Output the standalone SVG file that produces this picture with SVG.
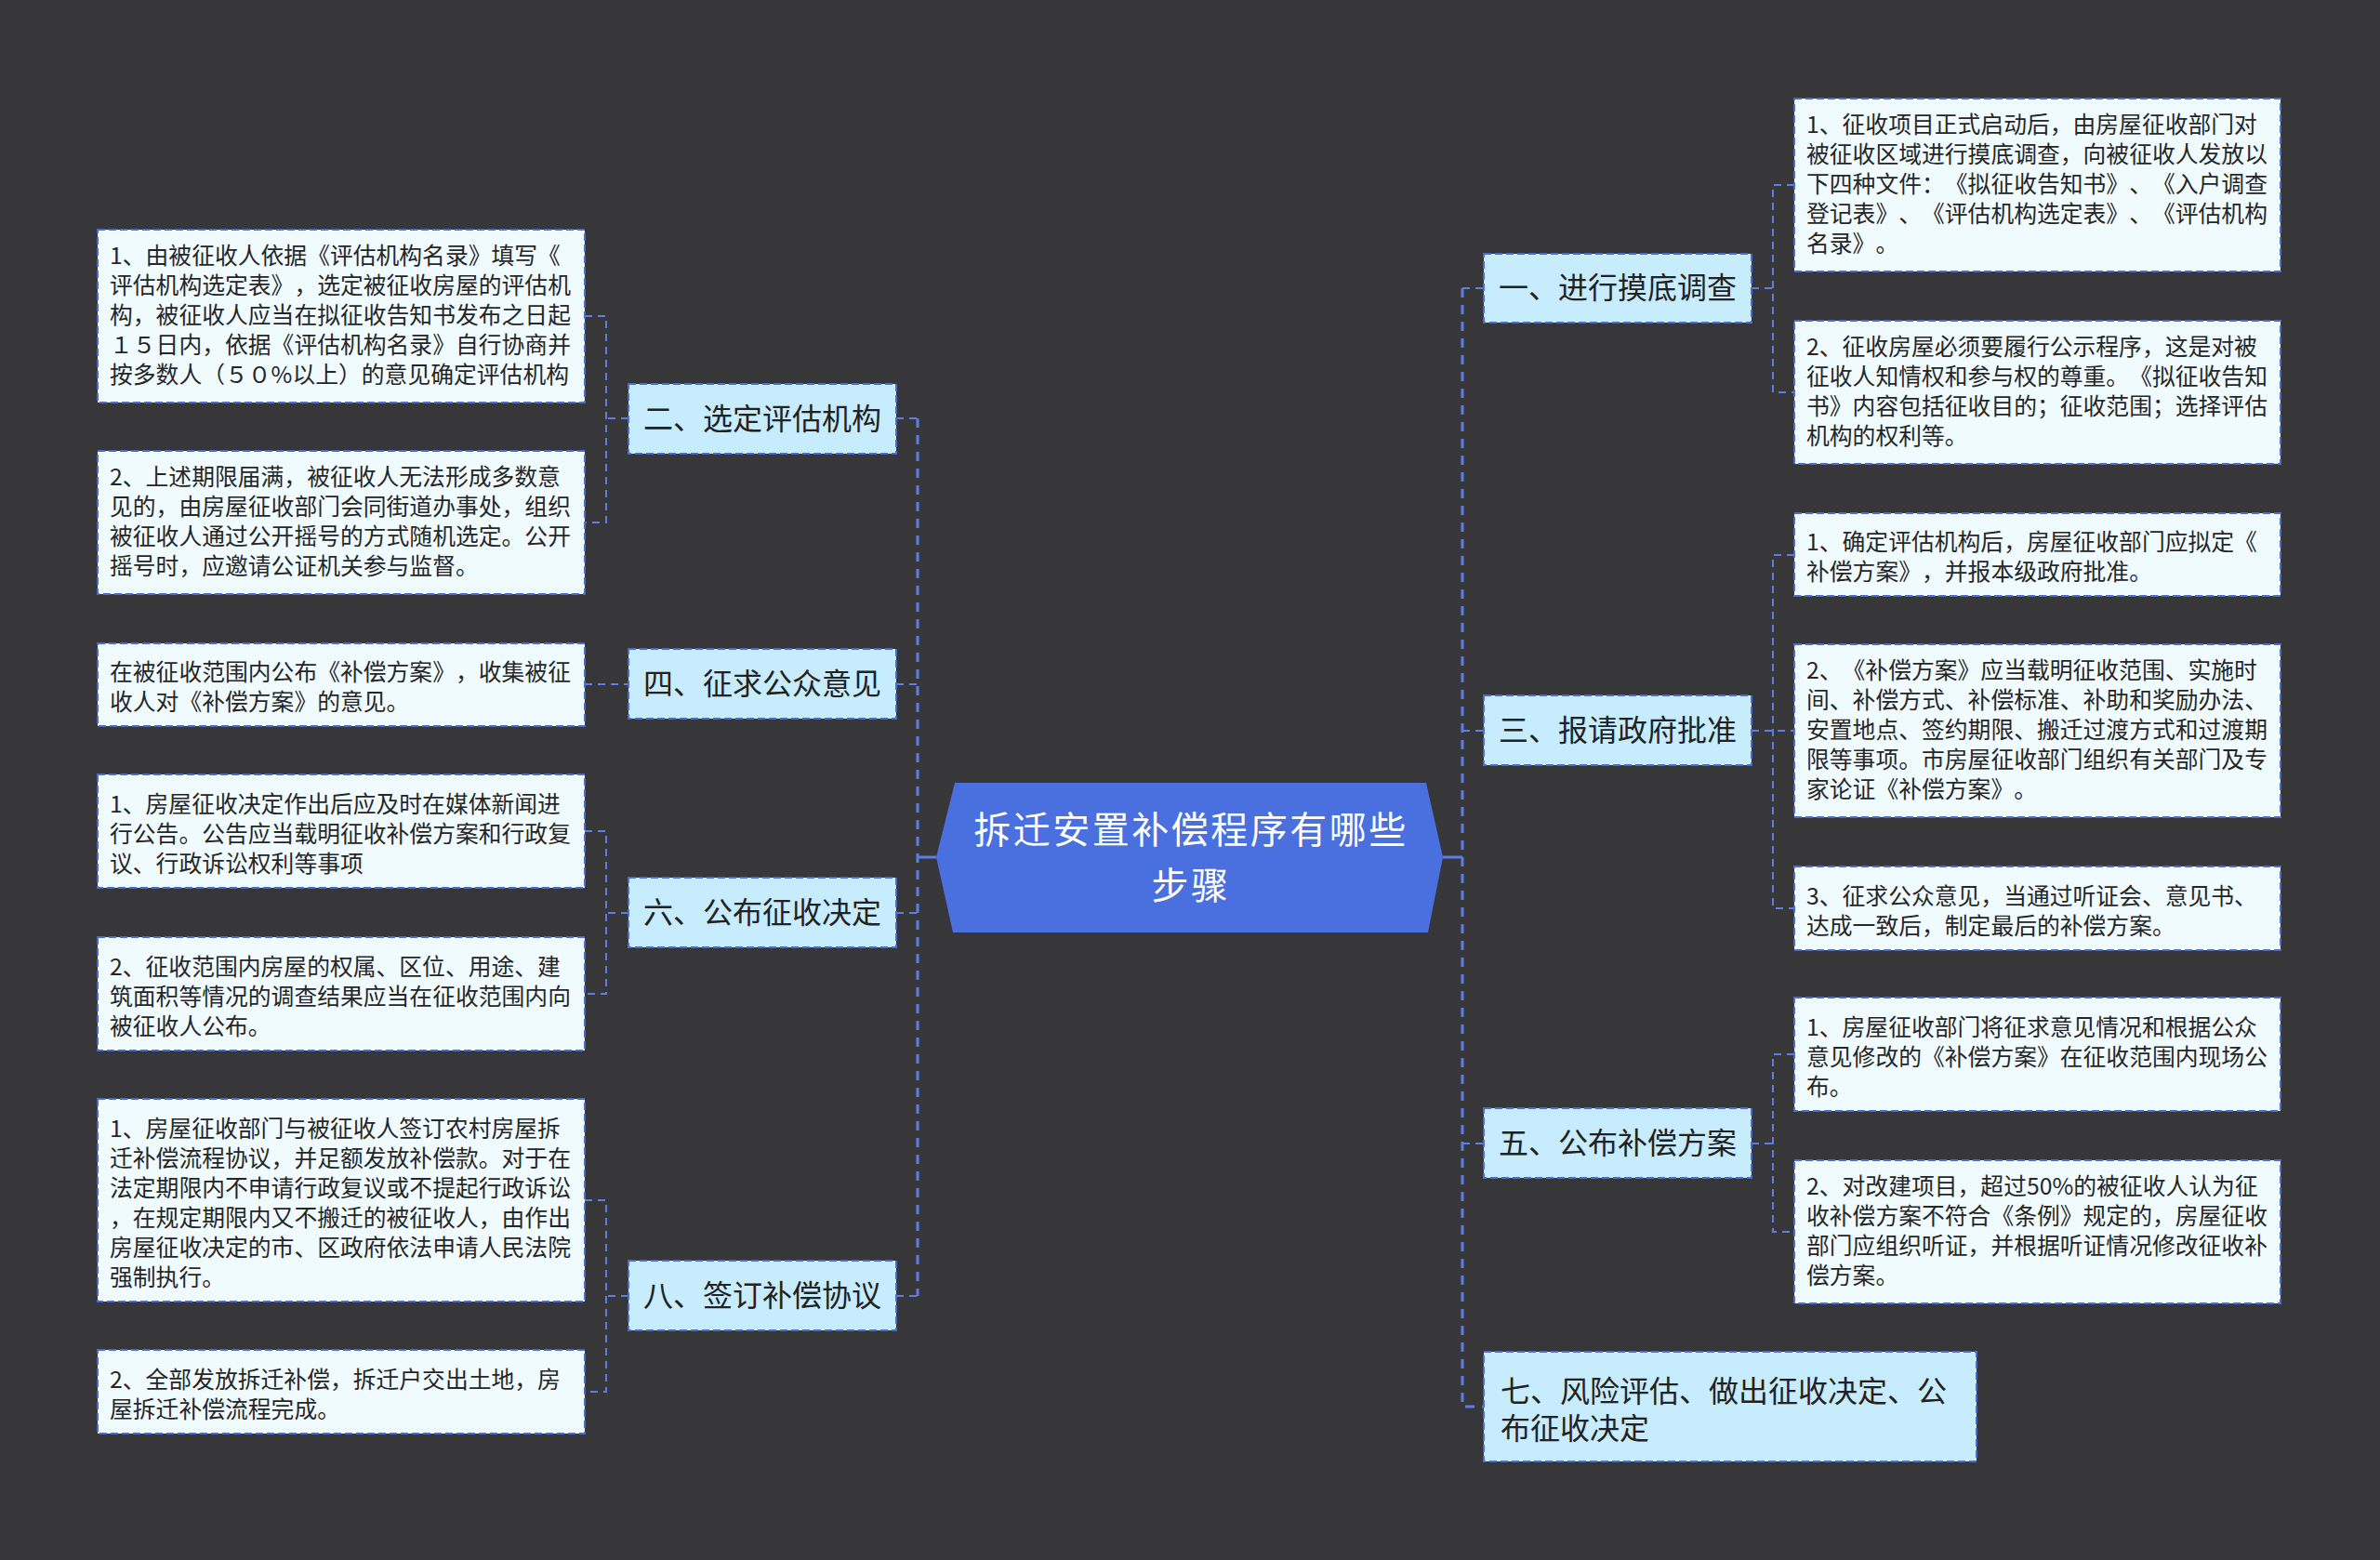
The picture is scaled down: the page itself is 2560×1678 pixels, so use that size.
<svg xmlns="http://www.w3.org/2000/svg" width="2560" height="1678" viewBox="0 0 2560 1678">
<style>
.bg{fill:#373638}
text{text-spacing-trim:space-all;font-kerning:none}
.leaf rect{fill:#f0fbff;stroke:#4a6ad4;stroke-width:2;stroke-dasharray:8 4}
.branch rect{fill:#c6ecfd;stroke:#4a6ad4;stroke-width:2;stroke-dasharray:8 4}
.lt{font-family:"Noto Sans CJK SC","Noto Sans",sans-serif;font-size:24.8px;fill:#262626}
.bt{font-family:"Noto Sans CJK SC","Noto Sans",sans-serif;font-size:32px;fill:#222}
.ct{font-family:"Noto Sans CJK SC","Noto Sans",sans-serif;font-size:40px;letter-spacing:2.5px;fill:#ffffff;text-anchor:middle}
.trunk{fill:none;stroke:#5a7ee6;stroke-width:3;stroke-dasharray:10 8}
.br{fill:none;stroke:#5a7ee6;stroke-width:2;stroke-dasharray:8 6}
.solid{fill:none;stroke:#5a7ee6;stroke-width:3}
</style>
<rect class="bg" x="0" y="0" width="2560" height="1678"/>

<g id="connectors">
  <path class="solid" d="M1007 922 H987"/>
  <path class="solid" d="M1552 922 H1573"/>
  <path class="trunk" d="M987 450 V1394"/>
  <path class="trunk" d="M1573 310 V1513 H1596"/>
  <path class="br" d="M964 450 H987"/>
  <path class="br" d="M964 736 H987"/>
  <path class="br" d="M964 982 H987"/>
  <path class="br" d="M964 1394 H987"/>
  <path class="br" d="M1573 310 H1596"/>
  <path class="br" d="M1573 786 H1596"/>
  <path class="br" d="M1573 1230 H1596"/>
  <path class="br" d="M676 450 H652"/>
  <path class="br" d="M629 340 H652 V562 H629"/>
  <path class="br" d="M629 736 H676"/>
  <path class="br" d="M676 982 H652"/>
  <path class="br" d="M629 894 H652 V1069 H629"/>
  <path class="br" d="M676 1394 H652"/>
  <path class="br" d="M629 1291 H652 V1497 H629"/>
  <path class="br" d="M1884 310 H1907"/>
  <path class="br" d="M1930 199 H1907 V422 H1930"/>
  <path class="br" d="M1884 786 H1930"/>
  <path class="br" d="M1930 597 H1907 V977 H1930"/>
  <path class="br" d="M1884 1230 H1907"/>
  <path class="br" d="M1930 1134 H1907 V1325 H1930"/>
</g>

<g id="center">
  <polygon points="1027,842 1534,842 1552,922 1536,1003 1025,1003 1007,922" fill="#4a6fde"/>
  <text class="ct"><tspan x="1281" y="907">拆迁安置补偿程序有哪些</tspan><tspan x="1281" y="967">步骤</tspan></text>
</g>

<g id="b2" class="branch"><rect x="676" y="413" width="288" height="75"/><text class="bt" x="820" y="462" text-anchor="middle">二、选定评估机构</text></g>
<g id="b4" class="branch"><rect x="676" y="698" width="288" height="75"/><text class="bt" x="820" y="747" text-anchor="middle">四、征求公众意见</text></g>
<g id="b6" class="branch"><rect x="676" y="944" width="288" height="75"/><text class="bt" x="820" y="993" text-anchor="middle">六、公布征收决定</text></g>
<g id="b8" class="branch"><rect x="676" y="1356" width="288" height="75"/><text class="bt" x="820" y="1405" text-anchor="middle">八、签订补偿协议</text></g>
<g id="b1" class="branch"><rect x="1596" y="273" width="288" height="74"/><text class="bt" x="1740" y="321" text-anchor="middle">一、进行摸底调查</text></g>
<g id="b3" class="branch"><rect x="1596" y="748" width="288" height="75"/><text class="bt" x="1740" y="797" text-anchor="middle">三、报请政府批准</text></g>
<g id="b5" class="branch"><rect x="1596" y="1192" width="288" height="75"/><text class="bt" x="1740" y="1241" text-anchor="middle">五、公布补偿方案</text></g>
<g id="b7" class="branch"><rect x="1596" y="1454" width="530" height="118"/><text class="bt"><tspan x="1614" y="1508">七、风险评估、做出征收决定、公</tspan><tspan x="1614" y="1548">布征收决定</tspan></text></g>

<g id="l2a" class="leaf"><rect x="105" y="247" width="524" height="186"/>
<text class="lt" x="118"><tspan x="118" y="284">1、由被征收人依据《评估机构名录》填写《</tspan><tspan x="118" y="316">评估机构选定表》，选定被征收房屋的评估机</tspan><tspan x="118" y="348">构，被征收人应当在拟征收告知书发布之日起</tspan><tspan x="118" y="380">１５日内，依据《评估机构名录》自行协商并</tspan><tspan x="118" y="412">按多数人（５０%以上）的意见确定评估机构</tspan></text></g>
<g id="l2b" class="leaf"><rect x="105" y="485" width="524" height="154"/>
<text class="lt"><tspan x="118" y="522">2、上述期限届满，被征收人无法形成多数意</tspan><tspan x="118" y="554">见的，由房屋征收部门会同街道办事处，组织</tspan><tspan x="118" y="586">被征收人通过公开摇号的方式随机选定。公开</tspan><tspan x="118" y="618">摇号时，应邀请公证机关参与监督。</tspan></text></g>
<g id="l4" class="leaf"><rect x="105" y="692" width="524" height="89"/>
<text class="lt"><tspan x="118" y="732">在被征收范围内公布《补偿方案》，收集被征</tspan><tspan x="118" y="764">收人对《补偿方案》的意见。</tspan></text></g>
<g id="l6a" class="leaf"><rect x="105" y="833" width="524" height="122"/>
<text class="lt"><tspan x="118" y="874">1、房屋征收决定作出后应及时在媒体新闻进</tspan><tspan x="118" y="906">行公告。公告应当载明征收补偿方案和行政复</tspan><tspan x="118" y="938">议、行政诉讼权利等事项</tspan></text></g>
<g id="l6b" class="leaf"><rect x="105" y="1008" width="524" height="122"/>
<text class="lt"><tspan x="118" y="1049">2、征收范围内房屋的权属、区位、用途、建</tspan><tspan x="118" y="1081">筑面积等情况的调查结果应当在征收范围内向</tspan><tspan x="118" y="1113">被征收人公布。</tspan></text></g>
<g id="l8a" class="leaf"><rect x="105" y="1182" width="524" height="218"/>
<text class="lt"><tspan x="118" y="1223">1、房屋征收部门与被征收人签订农村房屋拆</tspan><tspan x="118" y="1255">迁补偿流程协议，并足额发放补偿款。对于在</tspan><tspan x="118" y="1287">法定期限内不申请行政复议或不提起行政诉讼</tspan><tspan x="118" y="1319">，在规定期限内又不搬迁的被征收人，由作出</tspan><tspan x="118" y="1351">房屋征收决定的市、区政府依法申请人民法院</tspan><tspan x="118" y="1383">强制执行。</tspan></text></g>
<g id="l8b" class="leaf"><rect x="105" y="1452" width="524" height="90"/>
<text class="lt"><tspan x="118" y="1493">2、全部发放拆迁补偿，拆迁户交出土地，房</tspan><tspan x="118" y="1525">屋拆迁补偿流程完成。</tspan></text></g>

<g id="l1a" class="leaf"><rect x="1930" y="106" width="523" height="186"/>
<text class="lt"><tspan x="1943" y="143">1、征收项目正式启动后，由房屋征收部门对</tspan><tspan x="1943" y="175">被征收区域进行摸底调查，向被征收人发放以</tspan><tspan x="1943" y="207">下四种文件：《拟征收告知书》、《入户调查</tspan><tspan x="1943" y="239">登记表》、《评估机构选定表》、《评估机构</tspan><tspan x="1943" y="271">名录》。</tspan></text></g>
<g id="l1b" class="leaf"><rect x="1930" y="345" width="523" height="154"/>
<text class="lt"><tspan x="1943" y="382">2、征收房屋必须要履行公示程序，这是对被</tspan><tspan x="1943" y="414">征收人知情权和参与权的尊重。《拟征收告知</tspan><tspan x="1943" y="446">书》内容包括征收目的；征收范围；选择评估</tspan><tspan x="1943" y="478">机构的权利等。</tspan></text></g>
<g id="l3a" class="leaf"><rect x="1930" y="552" width="523" height="89"/>
<text class="lt"><tspan x="1943" y="592">1、确定评估机构后，房屋征收部门应拟定《</tspan><tspan x="1943" y="624">补偿方案》，并报本级政府批准。</tspan></text></g>
<g id="l3b" class="leaf"><rect x="1930" y="693" width="523" height="186"/>
<text class="lt"><tspan x="1943" y="730">2、《补偿方案》应当载明征收范围、实施时</tspan><tspan x="1943" y="762">间、补偿方式、补偿标准、补助和奖励办法、</tspan><tspan x="1943" y="794">安置地点、签约期限、搬迁过渡方式和过渡期</tspan><tspan x="1943" y="826">限等事项。市房屋征收部门组织有关部门及专</tspan><tspan x="1943" y="858">家论证《补偿方案》。</tspan></text></g>
<g id="l3c" class="leaf"><rect x="1930" y="932" width="523" height="90"/>
<text class="lt"><tspan x="1943" y="973">3、征求公众意见，当通过听证会、意见书、</tspan><tspan x="1943" y="1005">达成一致后，制定最后的补偿方案。</tspan></text></g>
<g id="l5a" class="leaf"><rect x="1930" y="1073" width="523" height="122"/>
<text class="lt"><tspan x="1943" y="1114">1、房屋征收部门将征求意见情况和根据公众</tspan><tspan x="1943" y="1146">意见修改的《补偿方案》在征收范围内现场公</tspan><tspan x="1943" y="1178">布。</tspan></text></g>
<g id="l5b" class="leaf"><rect x="1930" y="1248" width="523" height="154"/>
<text class="lt"><tspan x="1943" y="1285">2、对改建项目，超过50%的被征收人认为征</tspan><tspan x="1943" y="1317">收补偿方案不符合《条例》规定的，房屋征收</tspan><tspan x="1943" y="1349">部门应组织听证，并根据听证情况修改征收补</tspan><tspan x="1943" y="1381">偿方案。</tspan></text></g>
</svg>
